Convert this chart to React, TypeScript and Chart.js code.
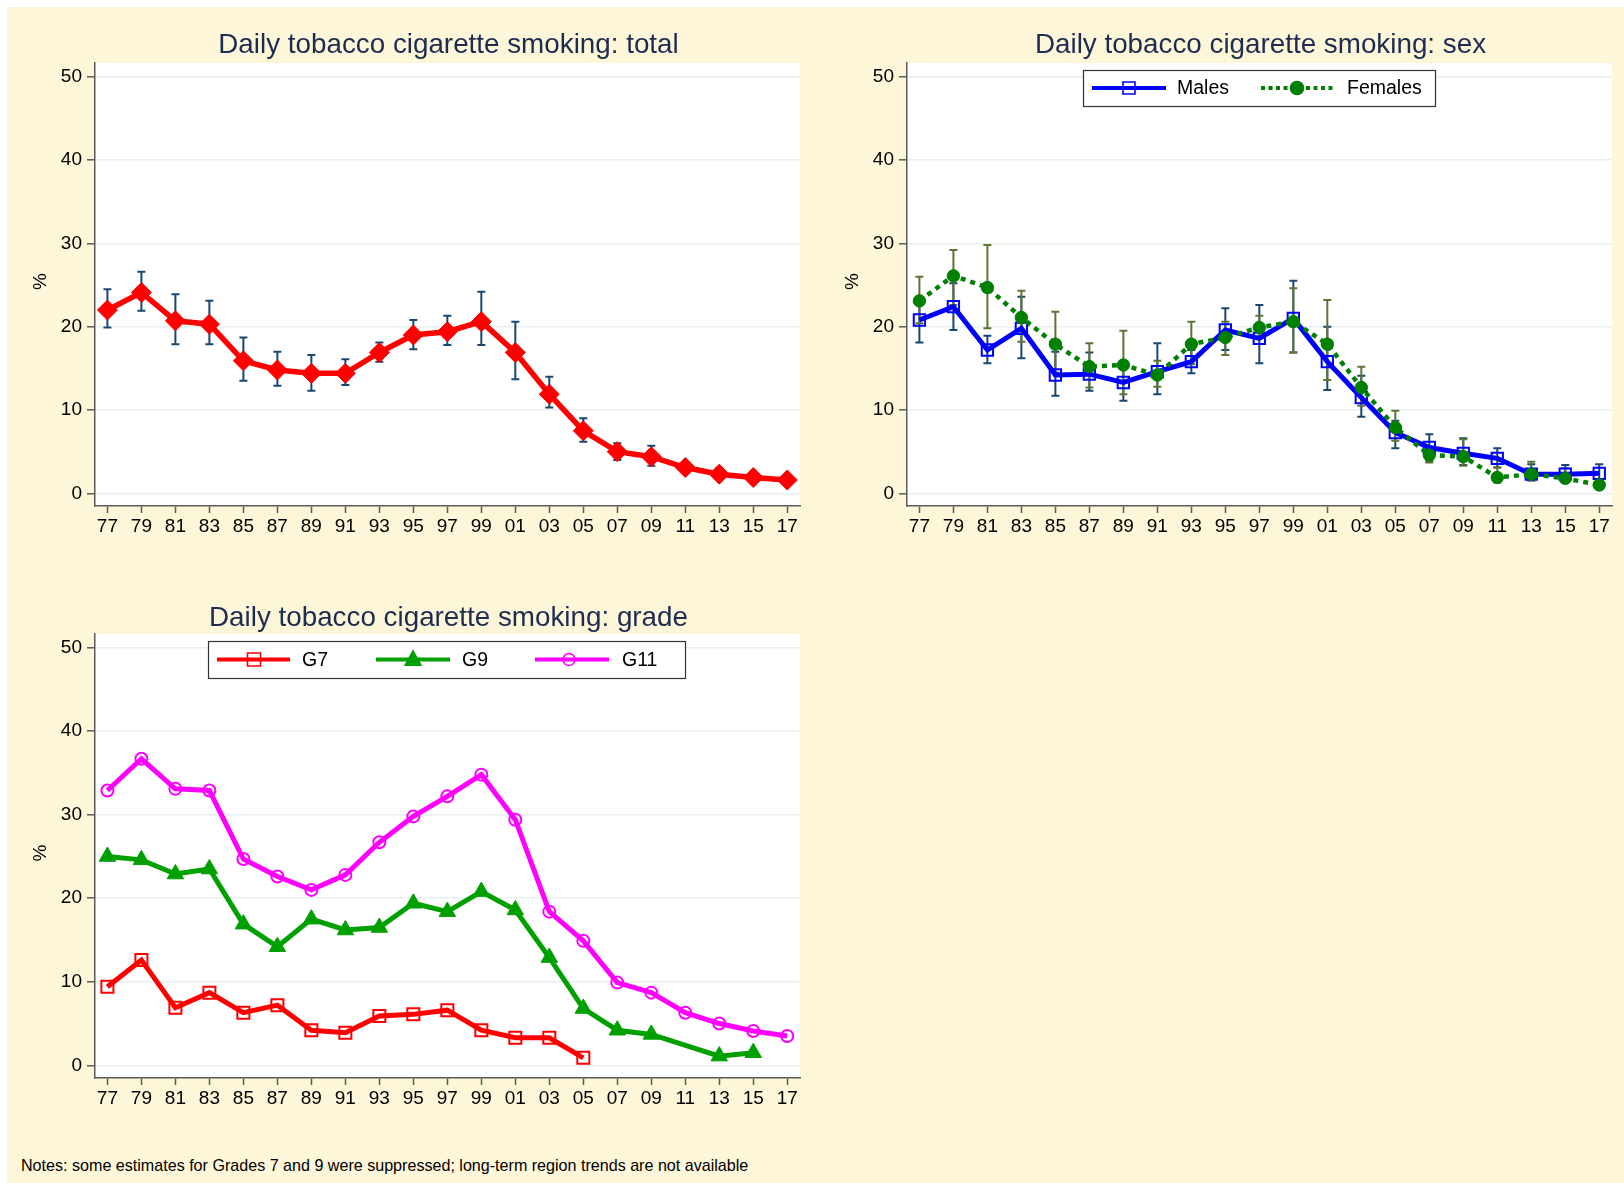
import React, { useEffect, useRef } from 'react';
import { Chart, registerables } from 'chart.js';

Chart.register(...registerables);

// ---------------- data ----------------
const years = [1977, 1979, 1981, 1983, 1985, 1987, 1989, 1991, 1993, 1995, 1997, 1999, 2001, 2003, 2005, 2007, 2009, 2011, 2013, 2015, 2017];
const xTickLabels = ['77', '79', '81', '83', '85', '87', '89', '91', '93', '95', '97', '99', '01', '03', '05', '07', '09', '11', '13', '15', '17'];
const yTicks = [0, 10, 20, 30, 40, 50];

const totalPct = [22.0, 24.1, 20.7, 20.3, 15.9, 14.8, 14.4, 14.4, 16.9, 19.0, 19.4, 20.6, 16.9, 11.9, 7.5, 5.0, 4.4, 3.1, 2.3, 1.9, 1.6];
const totalUpper = [24.5, 26.6, 23.9, 23.1, 18.7, 17.0, 16.6, 16.1, 18.1, 20.8, 21.3, 24.2, 20.6, 14.0, 9.0, 6.0, 5.7, 3.6, 3.0, 2.3, 1.9];
const totalLower = [19.9, 21.9, 17.9, 17.9, 13.5, 12.9, 12.3, 13.0, 15.8, 17.3, 17.8, 17.8, 13.7, 10.3, 6.2, 4.0, 3.3, 2.6, 1.8, 1.5, 1.3];

const malesPct = [20.8, 22.4, 17.2, 19.8, 14.2, 14.3, 13.3, 14.6, 15.8, 19.6, 18.6, 21.0, 15.8, 11.5, 7.3, 5.5, 4.8, 4.2, 2.3, 2.3, 2.4];
const malesUpper = [23.5, 25.2, 18.9, 23.6, 17.0, 16.9, 15.6, 18.0, 17.2, 22.2, 22.6, 25.5, 20.0, 14.1, 8.7, 7.1, 6.6, 5.4, 3.5, 3.4, 3.5];
const malesLower = [18.1, 19.6, 15.6, 16.2, 11.7, 12.3, 11.1, 11.9, 14.4, 17.2, 15.6, 16.9, 12.4, 9.2, 5.4, 3.9, 3.4, 3.1, 1.7, 1.7, 1.7];

const femalesPct = [23.1, 26.1, 24.7, 21.1, 17.9, 15.2, 15.4, 14.2, 17.9, 18.7, 19.9, 20.6, 17.9, 12.7, 7.9, 4.6, 4.4, 1.9, 2.3, 1.8, 1.0];
const femalesUpper = [26.0, 29.2, 29.8, 24.3, 21.8, 18.0, 19.5, 15.9, 20.6, 20.6, 21.3, 24.6, 23.2, 15.2, 9.9, 5.3, 6.5, 3.1, 3.8, 3.0, 1.3];
const femalesLower = [20.4, 22.6, 19.8, 18.2, 14.5, 12.7, 11.9, 12.8, 15.5, 16.6, 18.8, 16.9, 13.6, 10.5, 6.3, 3.7, 3.3, 1.3, 1.5, 1.3, 0.7];

const g7Pct = [9.4, 12.6, 6.9, 8.7, 6.3, 7.2, 4.2, 3.9, 5.9, 6.1, 6.6, 4.2, 3.3, 3.3, 0.9, null, null, null, null, null, null];
const g9Pct = [25.0, 24.6, 22.9, 23.5, 16.9, 14.2, 17.5, 16.2, 16.5, 19.4, 18.4, 20.8, 18.6, 12.9, 6.8, 4.2, 3.7, null, 1.1, 1.5, null];
const g11Pct = [32.9, 36.7, 33.1, 32.9, 24.7, 22.6, 21.0, 22.8, 26.7, 29.8, 32.2, 34.8, 29.4, 18.4, 14.9, 9.9, 8.7, 6.3, 5.0, 4.1, 3.5];

const titleTotal = 'Daily tobacco cigarette smoking: total';
const titleSex = 'Daily tobacco cigarette smoking: sex';
const titleGrade = 'Daily tobacco cigarette smoking: grade';
const yAxisTitle = '%';
const noteText = 'Notes: some estimates for Grades 7 and 9 were suppressed; long-term region trends are not available';

// ---------------- styles ----------------
const FONT = "'Liberation Sans', Arial, Helvetica, sans-serif";
const CREAM = '#FEF6D8';
const GRID = '#E8EFF1';
const AXIS = '#5a5a5a';
const TITLE_COLOR = '#1E2C52';
const NAVY = '#1A476F';
const OLIVE = '#5F7434';

type Series = {
  label: string;
  values: (number | null)[];
  color: string;
  width: number;
  dash?: number[];
  pointStyle: string;
  radius: number;
  pointBorderWidth: number;
  filled: boolean;
  order: number;
};

type LegendItem = {
  label: string;
  color: string;
  dash?: number[];
  marker: string;
  markerSize: number;
  filled: boolean;
  x1: number;
  x2: number;
  mx: number;
  tx: number;
};

type PanelSpec = {
  title: string;
  titleY: number;
  series: Series[];
  errorBars: { hi: number[]; lo: number[]; color: string }[];
  legend?: { box: [number, number, number, number]; items: LegendItem[] };
  padTop: number;
  padBottom: number;
};

function drawMarker(ctx: CanvasRenderingContext2D, style: string, x: number, y: number, s: number, color: string, filled: boolean, lw: number) {
  ctx.save();
  ctx.beginPath();
  if (style === 'rect') ctx.rect(x - s, y - s, 2 * s, 2 * s);
  else if (style === 'circle') ctx.arc(x, y, s, 0, Math.PI * 2);
  else if (style === 'triangle') {
    ctx.moveTo(x, y - s * 1.15);
    ctx.lineTo(x + s * 1.05, y + s * 0.75);
    ctx.lineTo(x - s * 1.05, y + s * 0.75);
    ctx.closePath();
  }
  ctx.setLineDash([]);
  if (filled) {
    ctx.fillStyle = color;
    ctx.fill();
  }
  ctx.lineWidth = lw;
  ctx.strokeStyle = color;
  ctx.stroke();
  ctx.restore();
}

function makeDecor(spec: PanelSpec) {
  return {
    id: 'decor',
    beforeDraw(chart: any) {
      const { ctx, chartArea: a } = chart;
      ctx.save();
      ctx.fillStyle = '#ffffff';
      ctx.fillRect(a.left, a.top, a.right - a.left, a.bottom - a.top);
      ctx.restore();
    },
    beforeDatasetsDraw(chart: any) {
      const { ctx } = chart;
      const xs = chart.scales.x;
      const ys = chart.scales.y;
      ctx.save();
      ctx.lineWidth = 2;
      ctx.lineCap = 'butt';
      for (const eb of spec.errorBars) {
        ctx.strokeStyle = eb.color;
        ctx.beginPath();
        for (let i = 0; i < years.length; i++) {
          const hi = eb.hi[i];
          const lo = eb.lo[i];
          if (hi == null || lo == null) continue;
          const x = xs.getPixelForValue(years[i]);
          const yh = ys.getPixelForValue(hi);
          const yl = ys.getPixelForValue(lo);
          ctx.moveTo(x, yh);
          ctx.lineTo(x, yl);
          ctx.moveTo(x - 4, yh);
          ctx.lineTo(x + 4, yh);
          ctx.moveTo(x - 4, yl);
          ctx.lineTo(x + 4, yl);
        }
        ctx.stroke();
      }
      ctx.restore();
    },
    afterDraw(chart: any) {
      const { ctx, chartArea: a } = chart;
      ctx.save();
      // title
      ctx.fillStyle = TITLE_COLOR;
      ctx.font = `27.8px ${FONT}`;
      ctx.textAlign = 'center';
      ctx.textBaseline = 'alphabetic';
      ctx.fillText(spec.title, (a.left + a.right) / 2 + 1, spec.titleY);
      // y title
      ctx.save();
      ctx.translate(41, (a.top + a.bottom) / 2 - 3);
      ctx.rotate(-Math.PI / 2);
      ctx.fillStyle = '#000';
      ctx.font = `19px ${FONT}`;
      ctx.textAlign = 'center';
      ctx.textBaseline = 'middle';
      ctx.fillText(yAxisTitle, 0, 0);
      ctx.restore();
      // legend
      if (spec.legend) {
        const [bx, by, bw, bh] = spec.legend.box;
        ctx.fillStyle = '#ffffff';
        ctx.fillRect(bx, by, bw, bh);
        ctx.strokeStyle = '#333';
        ctx.lineWidth = 1.2;
        ctx.strokeRect(bx + 0.5, by + 0.5, bw, bh);
        const cy = by + bh / 2;
        for (const it of spec.legend.items) {
          ctx.save();
          ctx.strokeStyle = it.color;
          ctx.lineWidth = 4;
          ctx.lineCap = 'butt';
          ctx.setLineDash(it.dash || []);
          ctx.beginPath();
          ctx.moveTo(it.x1, cy);
          ctx.lineTo(it.x2, cy);
          ctx.stroke();
          ctx.restore();
          drawMarker(ctx, it.marker, it.mx, cy, it.markerSize, it.color, it.filled, 1.6);
          ctx.fillStyle = '#000';
          ctx.font = `19.5px ${FONT}`;
          ctx.textAlign = 'left';
          ctx.textBaseline = 'middle';
          ctx.fillText(it.label, it.tx, cy + 1);
        }
      }
      ctx.restore();
    },
  };
}

function buildConfig(spec: PanelSpec): any {
  const tickFont = { family: FONT, size: 19 };
  return {
    type: 'line',
    data: {
      datasets: spec.series.map((s) => ({
        label: s.label,
        data: years.map((yr, i) => ({ x: yr, y: s.values[i] })),
        borderColor: s.color,
        borderWidth: s.width,
        borderDash: s.dash || [],
        pointStyle: s.pointStyle,
        pointRadius: s.radius,
        pointBorderWidth: s.pointBorderWidth,
        pointBorderColor: s.color,
        pointBackgroundColor: s.filled ? s.color : 'rgba(0,0,0,0)',
        spanGaps: true,
        tension: 0,
        fill: false,
        order: s.order,
      })),
    },
    options: {
      responsive: false,
      animation: false,
      events: [],
      layout: { padding: { left: 0, right: 12, top: spec.padTop, bottom: spec.padBottom } },
      plugins: { legend: { display: false }, tooltip: { enabled: false }, title: { display: false } },
      scales: {
        x: {
          type: 'linear',
          min: 1976.27,
          max: 2017.75,
          afterBuildTicks: (s: any) => {
            s.ticks = years.map((v) => ({ value: v }));
          },
          afterFit: (s: any) => {
            s.height = 40;
          },
          ticks: {
            autoSkip: false,
            maxRotation: 0,
            minRotation: 0,
            padding: 2,
            color: '#000',
            font: tickFont,
            callback: (_v: any, i: number) => xTickLabels[i],
          },
          grid: { drawOnChartArea: false, drawTicks: true, tickLength: 7, tickColor: AXIS, tickWidth: 1.5 },
          border: { display: true, color: AXIS, width: 1.5 },
        },
        y: {
          type: 'linear',
          min: -1.52,
          max: 51.64,
          afterBuildTicks: (s: any) => {
            s.ticks = yTicks.map((v) => ({ value: v }));
          },
          afterFit: (s: any) => {
            s.width = 95;
          },
          ticks: { padding: 5, color: '#000', font: tickFont, callback: (v: any) => String(v) },
          grid: { color: GRID, lineWidth: 1.6, drawTicks: true, tickLength: 8, tickColor: AXIS, tickWidth: 1.5 },
          border: { display: true, color: AXIS, width: 1.5 },
        },
      },
    },
    plugins: [makeDecor(spec)],
  };
}

const totalSpec: PanelSpec = {
  title: titleTotal,
  titleY: 53,
  padTop: 63,
  padBottom: 14,
  series: [
    { label: 'Total', values: totalPct, color: '#FF0000', width: 5.5, pointStyle: 'rectRot', radius: 10, pointBorderWidth: 1, filled: true, order: 0 },
  ],
  errorBars: [{ hi: totalUpper, lo: totalLower, color: NAVY }],
};

const sexSpec: PanelSpec = {
  title: titleSex,
  titleY: 53,
  padTop: 63,
  padBottom: 14,
  series: [
    { label: 'Males', values: malesPct, color: '#0000FF', width: 5, pointStyle: 'rect', radius: 8, pointBorderWidth: 2, filled: false, order: 1 },
    { label: 'Females', values: femalesPct, color: '#008000', width: 4.5, dash: [5, 5], pointStyle: 'circle', radius: 6.2, pointBorderWidth: 1, filled: true, order: 0 },
  ],
  errorBars: [
    { hi: malesUpper, lo: malesLower, color: NAVY },
    { hi: femalesUpper, lo: femalesLower, color: OLIVE },
  ],
  legend: {
    box: [271, 70, 352, 36],
    items: [
      { label: 'Males', color: '#0000FF', marker: 'rect', markerSize: 6, filled: false, x1: 280, x2: 354, mx: 317, tx: 365 },
      { label: 'Females', color: '#008000', dash: [4, 3.5], marker: 'circle', markerSize: 6.5, filled: true, x1: 449, x2: 521, mx: 485, tx: 535 },
    ],
  },
};

const gradeSpec: PanelSpec = {
  title: titleGrade,
  titleY: 55,
  padTop: 63,
  padBottom: 13,
  series: [
    { label: 'G7', values: g7Pct, color: '#FF0000', width: 5, pointStyle: 'rect', radius: 8.5, pointBorderWidth: 2, filled: false, order: 0 },
    { label: 'G9', values: g9Pct, color: '#00A000', width: 5, pointStyle: 'triangle', radius: 9.5, pointBorderWidth: 1, filled: true, order: 1 },
    { label: 'G11', values: g11Pct, color: '#FF00FF', width: 5, pointStyle: 'circle', radius: 6, pointBorderWidth: 2, filled: false, order: 2 },
  ],
  errorBars: [],
  legend: {
    box: [208, 70, 477, 37],
    items: [
      { label: 'G7', color: '#FF0000', marker: 'rect', markerSize: 6.5, filled: false, x1: 217, x2: 290, mx: 254, tx: 302 },
      { label: 'G9', color: '#00A000', marker: 'triangle', markerSize: 7.5, filled: true, x1: 376, x2: 450, mx: 413, tx: 462 },
      { label: 'G11', color: '#FF00FF', marker: 'circle', markerSize: 6, filled: false, x1: 535, x2: 609, mx: 569, tx: 622 },
    ],
  },
};

function Panel({ spec, left, top }: { spec: PanelSpec; left: number; top: number }) {
  const ref = useRef<HTMLCanvasElement>(null);
  useEffect(() => {
    const chart = new Chart(ref.current as HTMLCanvasElement, buildConfig(spec));
    return () => chart.destroy();
  }, [spec]);
  return (
    <canvas
      ref={ref}
      width={812}
      height={560}
      style={{ position: 'absolute', left, top, width: 812, height: 560, display: 'block' }}
    />
  );
}

export default function App() {
  return (
    <div style={{ position: 'absolute', left: 0, top: 0, width: 1624, height: 1183, background: '#ffffff', overflow: 'hidden' }}>
      <div style={{ position: 'absolute', left: 7, top: 7, width: 1617, height: 1176, background: CREAM }} />
      <Panel spec={totalSpec} left={0} top={0} />
      <Panel spec={sexSpec} left={812} top={0} />
      <Panel spec={gradeSpec} left={0} top={571} />
      <div
        style={{
          position: 'absolute',
          left: 21,
          top: 1155,
          fontFamily: FONT,
          fontSize: 16.1,
          lineHeight: '20px',
          color: '#000',
          whiteSpace: 'nowrap',
        }}
      >
        {noteText}
      </div>
    </div>
  );
}
